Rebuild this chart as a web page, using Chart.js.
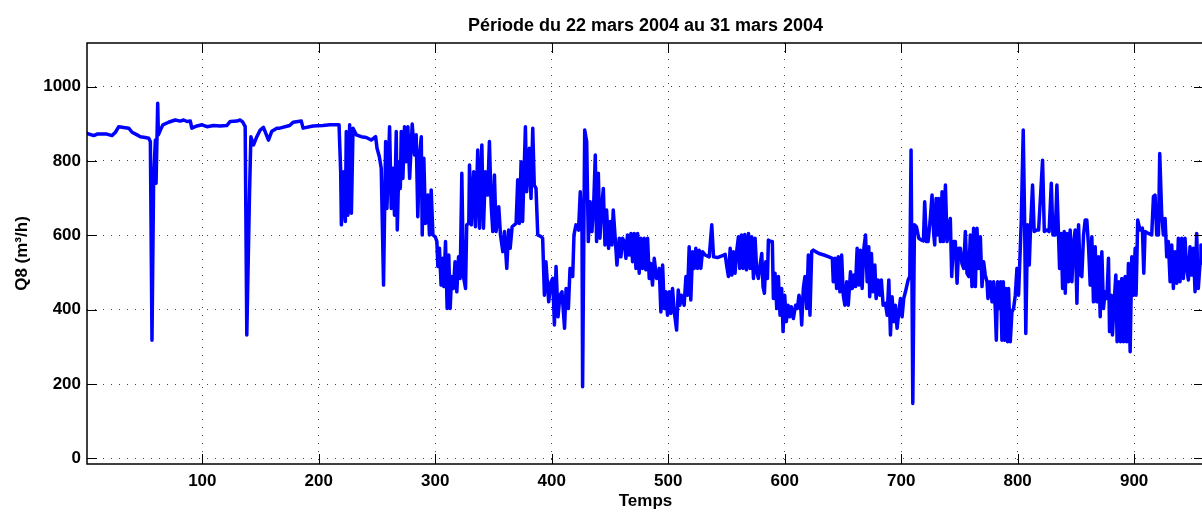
<!DOCTYPE html>
<html>
<head>
<meta charset="utf-8">
<script src="https://cdn.jsdelivr.net/npm/chart.js@4/dist/chart.umd.min.js"></script>
<style>
  html, body { margin: 0; padding: 0; background: #fff; overflow: hidden; }
  #wrap { width: 1204px; height: 512px; }
</style>
</head>
<body>
<div id="wrap"><canvas id="chart" width="1204" height="512"></canvas></div>
<script>
// Q8 flow readings (x = time step, y = m3/h)
const temps = [
  1, 6.8, 9.7, 18, 22.5, 25.4, 28.3, 32.5, 36.8, 39.7, 44, 46.8, 51, 54, 55.4, 56.8, 58.2, 59.7, 60.3, 61.7,
  62.3, 64, 66.2, 71, 76.8, 81, 84, 86.8, 89.7, 91, 95.4, 99.7, 104, 109.7, 115.4, 121, 124, 129.7, 132.5, 134.8,
  136.8, 138.2, 140.5, 141.7, 144, 146.8, 149.7, 152.5, 156.8, 159.7, 164,
  166.5, 175, 178, 185, 186.5, 195, 203.6, 209.4, 217.4, 218.8, 219.4, 221.4, 222.8, 223.6, 225, 226.5, 228, 229.4, 232.2, 236.5,
  240.8, 245, 248.8, 250, 252, 253.6, 255.6, 257.4, 258.5, 260.8, 262.2, 263.6, 265, 266.5, 267.4, 268.8, 270, 270.8, 272.2, 273.6,
  275, 276.5, 278, 280.2, 282.2, 283.6, 285, 286.5, 288, 288.8, 290.2, 291.6, 293.6, 295, 296.5, 298, 300, 301.4, 302.2, 303.6,
  305, 306.5, 307.4, 308.8, 310.2, 311.6, 312.8, 314, 315.6, 317, 318.5, 320, 321.4, 322.8, 324.2, 326, 327, 328.8,
  329.4, 331, 333, 334.5, 336.5, 338, 340, 341.4, 343, 345, 346.5, 348, 349.4, 350.8, 352.2, 354.5, 356, 358, 359.4, 361.4,
  363, 364.3, 366, 369.4, 370.8, 372.2, 373.7, 375, 377.4, 378.5, 380.8, 382.2, 383.7, 385, 386.5, 388, 391, 392.2, 393.7, 395,
  397.4, 399.4, 400.8, 402.3, 403.7, 405.4, 407.1, 408.8, 411, 412.3, 414.3, 415.7, 418, 419.1, 420.8, 423, 424.5, 426, 426.5, 428.3,
  430, 431.4, 433, 434.5, 436, 437.4, 438.5, 440, 441.4, 442.8, 444.3, 445.7, 447.1, 448.8, 450.3, 451.7, 452.8, 454.5, 456, 458,
  459.4, 460.8, 462.3, 463.7, 465, 466.5, 468, 469.4, 470.8, 472.3, 473.7, 475.1, 476.5, 478, 479.4, 480.8, 482.3, 483.7, 485, 486.5,
  488, 490, 491.7,
  492.3, 493.7, 495.2, 496.6, 498, 499.4, 500.9, 502.3, 503.7, 505.2, 507.2, 508.6, 510, 511.4, 513.7, 515.2, 516.6, 518, 519.4, 520.9,
  522.3, 523.7, 525.2, 526.6, 528, 529.4, 531.7, 535.2, 537.4, 538.9, 542.3, 546.6, 548.9, 550.3, 551.7, 553.2, 554.6, 556, 557.4, 558.9,
  560.3, 561.4, 562.9, 564.3, 565.7, 567.2, 568.9, 570.3, 571.7, 573.2, 574.6, 576, 577.4, 578.9, 580.3, 581.4, 582.6, 583.7, 585.2, 586,
  588, 589.4, 590.3, 591.7, 593.2, 594.6, 596, 597.4, 598.6, 600, 601.4, 602.9, 604.3, 605.7, 607.4, 609.4, 610.9, 612.3, 613.7, 614.6,
  616, 617.4, 618.9, 620.3, 621.7, 623.2, 624.6, 626.6, 629.4, 633.7, 638, 640.9, 641.7, 643.2, 644.6, 646, 647.4, 648.9, 650.3, 651.7,
  653.2, 654.6,
  656.5, 658, 659.4, 660.8, 662.2, 663.7, 665, 666.5, 668, 669.4, 670.8, 672.2, 673, 674.5, 675.7, 677.4, 678.5, 680.2, 681.7, 683,
  684.5, 686.5, 688, 689.4, 690.8, 692.2, 693.7, 695, 696.5, 698, 699.4, 700.8, 702.2, 703.7, 706, 707.4, 708.5, 710, 711.4, 713.1,
  715.1, 717.4, 719.1, 720.2, 721.7, 723.1, 724.8, 726.5, 728, 728.8, 730, 731.1, 732.2, 733.7, 735.1, 736.2, 738, 739.4, 740.8, 742.2,
  743.4, 744.8, 746.5, 748, 749.4, 750.8, 752.2, 753.7, 755.1, 756.5, 758, 759.4, 760.8, 762.2, 763.7, 765.1, 766.5, 768, 769.4, 770.8,
  772.2, 773.7, 774.5, 776.5, 778, 779.4, 780.8, 781.7, 782.8, 784.2, 785.4, 786.5, 787.7, 788.8, 790, 791.4, 792.2, 793.7, 795.1, 796.5,
  798, 799.4, 800.8, 801.7, 803.1, 804.8, 806, 807, 808.5, 810, 811, 812.8, 814.2, 816.5,
  818, 821.4, 822.9, 825, 827, 828.9, 830.3, 832.3, 833.7, 835.1, 836, 837.4, 838.6, 840, 840.9, 842.3, 843.7, 845.1, 846.6, 848,
  849.4, 850.9, 852.3, 853.7, 855.1, 856.6, 858, 859.4, 860.9, 862.3, 863.7, 865.1, 866.6, 868, 869.4, 870.9, 872.3, 873.7, 875.1, 876.6,
  878, 878.9, 880.3, 881.4, 882.9, 884.3, 885.4, 886.9, 888.3, 889.4, 890.9, 892.3, 893.7, 895.1, 896.6, 898, 899.4, 900.9, 901.7, 903.1,
  905.1, 907.1, 908.3, 909.4, 912.3, 915.1, 916.6, 918, 919.4, 920.9, 922, 923.7, 925.1, 926.6, 928, 929.4, 930.9, 932.3, 933.7, 935.1,
  936.6, 938, 939.4, 940.9, 942.3, 943.7, 945.1, 946.6, 948, 949.4, 950.9, 952.3, 953.7, 955.1, 956.6, 957.4, 960
];

const debitQ8 = [
  874, 868, 872, 872, 868, 877, 892, 890, 888, 877, 870, 865, 863, 861, 852, 318, 753, 856, 740, 955,
  870, 883, 897, 904, 910, 907, 910, 906, 907, 888, 894, 897, 892, 895, 894, 895, 906, 907, 910, 904,
  892, 332, 708, 865, 843, 865, 883, 890, 856, 880, 888,
  888, 895, 904, 907, 888, 894, 895, 897, 897, 771, 628, 771, 637, 879, 654, 897, 659, 888, 870, 865,
  863, 856, 865, 834, 811, 780, 466, 852, 672, 892, 672, 780, 654, 879, 614, 798, 726, 879, 753, 892,
  798, 892, 753, 899, 816, 870, 650, 816, 865, 601, 807, 632, 708, 601, 722, 601, 596, 583, 516, 565,
  466, 538, 462, 583, 403, 547, 403, 489, 457, 529, 448, 542, 484, 767, 489, 457, 628, 632,
  789, 628, 771, 623, 829, 619, 843, 619, 771, 708, 852, 681, 610, 762, 610, 677, 601, 556, 610, 511,
  614, 565, 623, 632, 749, 632, 798, 637, 892, 717, 834, 699, 888, 735, 726, 601, 596, 592, 439, 529,
  421, 475, 484, 359, 516, 381, 439, 448, 350, 457, 403, 511, 489, 601, 628, 614, 717, 610, 193, 883,
  852, 583, 690, 610, 681, 816, 583, 767, 592, 672, 726, 574, 668, 565, 637, 574, 668, 592, 520, 592,
  542, 592, 583, 538, 601, 547, 605, 529, 605, 511, 605, 498, 592, 511, 592, 507, 592, 484, 524, 466,
  538, 484, 489,
  511, 394, 520, 403, 448, 385, 448, 390, 457, 394, 345, 453, 412, 439, 412, 489, 439, 569, 426, 556,
  511, 565, 511, 560, 511, 556, 547, 542, 628, 542, 540, 545, 549, 516, 489, 565, 493, 556, 498, 560,
  596, 511, 601, 511, 602, 507, 605, 511, 596, 484, 592, 502, 484, 520, 551, 462, 444, 529, 484, 587,
  583, 583, 430, 498, 403, 489, 385, 457, 341, 439, 368, 412, 381, 408, 376, 412, 403, 439, 412, 359,
  457, 489, 403, 547, 385, 556, 560, 556, 551, 547, 542, 538, 475, 538, 457, 542, 448, 547, 439, 412,
  475, 412,
  502, 457, 493, 462, 565, 466, 560, 457, 565, 601, 475, 569, 435, 551, 448, 520, 430, 480, 439, 480,
  412, 417, 385, 480, 332, 435, 368, 412, 350, 394, 430, 381, 430, 448, 480, 489, 829, 148, 628, 623,
  592, 587, 585, 690, 583, 583, 637, 708, 601, 574, 699, 601, 699, 583, 717, 583, 735, 583, 619, 645,
  489, 583, 583, 471, 565, 565, 524, 511, 610, 498, 489, 601, 462, 619, 462, 619, 511, 596, 462, 529,
  493, 475, 430, 475, 421, 475, 403, 318, 475, 403, 475, 318, 475, 318, 457, 314, 457, 314, 394, 403,
  439, 511, 439, 516, 637, 883, 637, 336, 628, 520, 614, 735, 610, 614,
  614, 802, 610, 614, 610, 740, 601, 601, 735, 601, 511, 605, 457, 610, 444, 605, 475, 614, 475, 578,
  614, 417, 628, 493, 489, 601, 641, 641, 569, 466, 596, 421, 569, 421, 542, 381, 556, 403, 448, 430,
  538, 341, 439, 332, 421, 493, 314, 475, 314, 484, 314, 489, 314, 524, 287, 542, 439, 565, 439, 641,
  614, 619, 498, 610, 605, 601, 704, 708, 601, 601, 820, 654, 601, 645, 542, 583, 475, 574, 457, 556,
  471, 592, 475, 592, 484, 592, 511, 480, 569, 493, 565, 448, 605, 457, 524, 574, 540
];

const xTickValues = [100, 200, 300, 400, 500, 600, 700, 800, 900];
const yTickValues = [0, 200, 400, 600, 800, 1000];

const fontFamily = "'Liberation Sans', Arial, Helvetica, sans-serif";
Chart.defaults.font.family = fontFamily;
Chart.defaults.color = '#000';

// MATLAB style box with inward ticks on all four sides
const matlabBox = {
    id: 'matlabBox',
    afterDraw(chart) {
        const { ctx, chartArea: a, scales } = chart;
        const len = 10;
        ctx.save();
        ctx.strokeStyle = '#000';
        ctx.lineWidth = 1;
        ctx.beginPath();
        scales.x.ticks.forEach(t => {
            const px = Math.round(scales.x.getPixelForValue(t.value)) + 0.5;
            ctx.moveTo(px, a.bottom); ctx.lineTo(px, a.bottom - len);
            ctx.moveTo(px, a.top); ctx.lineTo(px, a.top + len);
        });
        scales.y.ticks.forEach(t => {
            const py = Math.round(scales.y.getPixelForValue(t.value)) + 0.5;
            ctx.moveTo(a.left, py); ctx.lineTo(a.left + len, py);
            ctx.moveTo(a.right, py); ctx.lineTo(a.right - len, py);
        });
        ctx.stroke();
        ctx.lineWidth = 1.5;
        ctx.strokeRect(a.left, a.top, a.right - a.left, a.bottom - a.top);
        ctx.restore();
    }
};

const gridStyle = {
    color: '#444',
    lineWidth: 1,
    drawTicks: false,
    tickLength: 0
};

new Chart(document.getElementById('chart'), {
    type: 'line',
    data: {
        datasets: [{
            label: 'Q8',
            data: temps.map((t, i) => ({ x: t, y: debitQ8[i] })),
            borderColor: '#0000ff',
            borderWidth: 3.5,
            pointRadius: 0,
            tension: 0,
            borderJoinStyle: 'round',
            borderCapStyle: 'round',
            fill: false
        }]
    },
    options: {
        responsive: false,
        animation: false,
        devicePixelRatio: 1,
        layout: { padding: 0 },
        plugins: {
            legend: { display: false },
            tooltip: { enabled: false },
            title: {
                display: true,
                fullSize: false,
                text: 'Période du 22 mars 2004 au 31 mars 2004',
                color: '#000',
                font: { size: 18, weight: 'bold' },
                padding: { top: 15, bottom: 6.4 }
            }
        },
        scales: {
            x: {
                type: 'linear',
                min: 1,
                max: 960,
                afterBuildTicks: s => { s.ticks = xTickValues.map(v => ({ value: v })); },
                afterFit: s => { s.height = 48; },
                grid: gridStyle,
                border: { display: false, dash: [1, 7] },
                ticks: {
                    padding: 7,
                    font: { size: 17, weight: 'bold' },
                    color: '#000',
                    maxRotation: 0,
                    callback: v => String(v)
                },
                title: {
                    display: true,
                    text: 'Temps',
                    font: { size: 17, weight: 'bold' },
                    padding: { top: 0, bottom: 0 }
                }
            },
            y: {
                min: -15,
                max: 1117,
                afterBuildTicks: s => { s.ticks = yTickValues.map(v => ({ value: v })); },
                afterFit: s => { s.width = 87; },
                grid: gridStyle,
                border: { display: false, dash: [1, 7] },
                ticks: {
                    padding: 6,
                    font: { size: 17, weight: 'bold' },
                    color: '#000',
                    callback: v => String(v)
                },
                title: {
                    display: true,
                    text: 'Q8 (m³/h)',
                    font: { size: 17, weight: 'bold' },
                    padding: { top: 12, bottom: 0 }
                }
            }
        }
    },
    plugins: [matlabBox]
});
</script>
</body>
</html>
